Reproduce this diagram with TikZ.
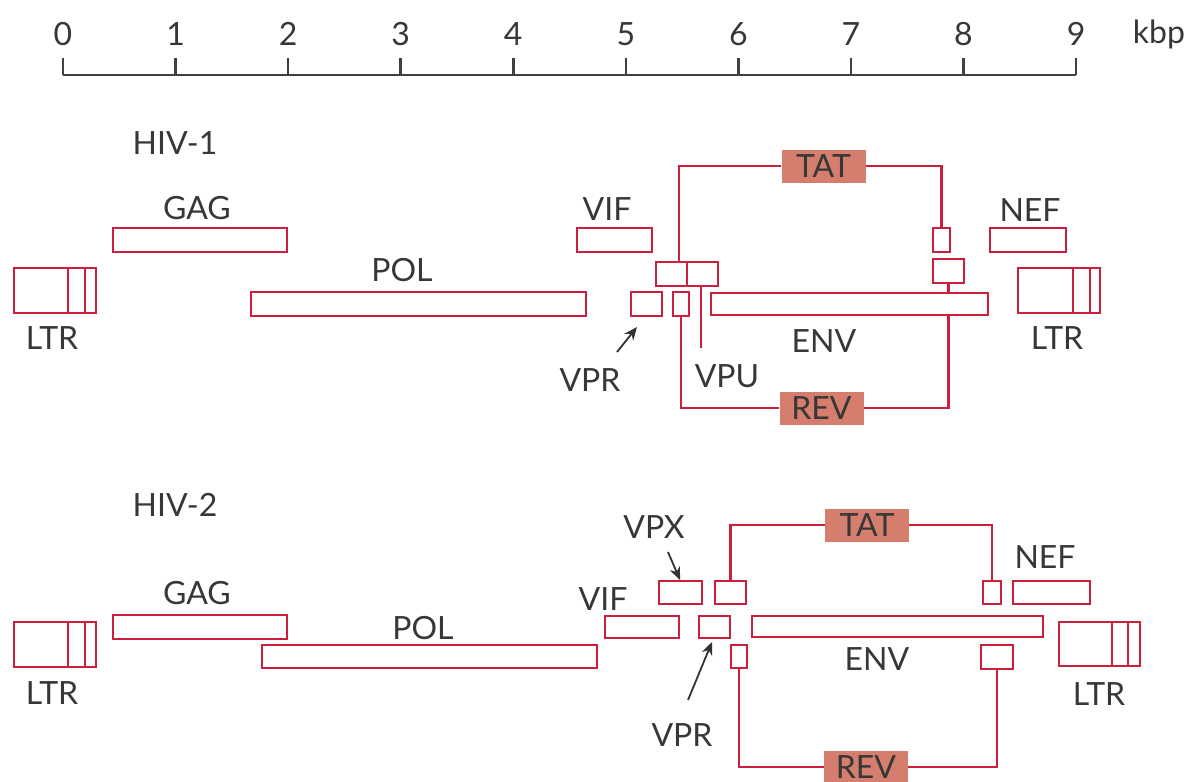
\documentclass[tikz,border=0pt]{standalone}
\usepackage{fontspec}
\setmainfont{Lato}
\usetikzlibrary{fit,arrows.meta}
\definecolor{gred}{RGB}{204,31,61}
\definecolor{gfill}{RGB}{214,126,110}
\definecolor{gtxt}{RGB}{55,55,55}
\newcommand\gbox[5]{\node[gene, fit={(#2,#3) (#4,#5)}] (#1) {};}
\begin{document}
\begin{tikzpicture}[x=0.5pt,y=-0.5pt,
  gene/.style={draw=gred,line width=1.4pt,inner sep=0pt,rectangle},
  lbl/.style={text=gtxt,font=\fontsize{16}{19}\selectfont,inner sep=0pt},
  hl/.style={fill=gfill,text=gtxt,font=\fontsize{16}{19}\selectfont,inner sep=0pt,minimum width=42pt,minimum height=16.5pt},
  conn/.style={draw=gred,line width=1.4pt},
  ptr/.style={draw=black!80,line width=0.9pt,-{Stealth[length=6.5pt,width=5.5pt]}},
  axisline/.style={draw=black!75,line width=1.3pt}]
\useasboundingbox (0,0) rectangle (1202,781);
\clip (0,0) rectangle (1202,781);

% scale
\draw[axisline] (63,75) -- (1076,75);
\foreach \i in {0,...,9} {
  \node[lbl] (t\i) at ({63+112.56*\i},34) {\i};
  \draw[axisline] ({63+112.56*\i},58) -- ({63+112.56*\i},75);
}
\node[lbl] (kbp) at (1159,34) {kbp};

% ================= HIV-1 =================
\node[lbl] (h1) at (175,143) {HIV-1};
\gbox{ltrA}{14}{268}{96}{313}
\draw[gene] (68,268) -- (68,313) (85,268) -- (85,313);
\node[lbl] (ltrAl) at (52,338) {LTR};
\gbox{gagA}{113}{228}{287}{252}
\node[lbl] (gagAl) at (197,208) {GAG};
\gbox{polA}{251}{292}{586}{316}
\node[lbl] (polAl) at (402,270) {POL};
\gbox{vifA}{577}{228}{652}{252}
\node[lbl] (vifAl) at (607,209) {VIF};
\gbox{vprA}{631}{292}{662}{316}
\node[lbl] (vprAl) at (590,380) {VPR};
\gbox{tatAa}{656}{262}{687}{286}
\gbox{vpuA}{687}{262}{718}{286}
\gbox{revAa}{673}{292}{689}{316}
\gbox{envA}{711}{293}{988}{315}
\node[lbl] (envAl) at (824,341) {ENV};
\node[lbl] (vpuAl) at (727,376) {VPU};
\gbox{tatAb}{933}{228}{950}{252}
\gbox{revAb}{933}{259}{964}{283}
\gbox{nefA}{990}{228}{1066}{252}
\node[lbl] (nefAl) at (1030,210) {NEF};
\gbox{ltrB}{1018}{268}{1100}{313}
\draw[gene] (1073,268) -- (1073,313) (1090,268) -- (1090,313);
\node[lbl] (ltrBl) at (1057,338) {LTR};
\node[hl] (tatA) at (823.5,166) {TAT};
\node[hl] (revA) at (821.5,408) {REV};
\coordinate (tatAcorner) at (679,166);
\draw[conn] (tatAa.north -| tatAcorner) -- (tatAcorner) -- (tatA.west);
\draw[conn] (tatA.east) -| (tatAb.north);
\draw[conn] (revAa.south) |- (revA.west);
\draw[conn] (revAb.south) -- (revAb.south |- envA.north);
\draw[conn] (revAb.south |- envA.south) |- (revA.east);
\path (vpuA.south) ++(-1.5,61) coordinate (vpuend);
\draw[conn] (vpuA.south -| vpuend) -- (vpuend);
\coordinate (vprAtail) at (617,352);
\coordinate (vprAtip) at (637,327);
\draw[ptr] (vprAtail) -- (vprAtip);

% ================= HIV-2 =================
\node[lbl] (h2) at (175,505) {HIV-2};
\gbox{ltrC}{14}{622}{96}{667}
\draw[gene] (68,622) -- (68,667) (85,622) -- (85,667);
\node[lbl] (ltrCl) at (52,693) {LTR};
\gbox{gagB}{113}{615}{287}{639}
\node[lbl] (gagBl) at (197,593) {GAG};
\gbox{polB}{262}{645}{597}{668}
\node[lbl] (polBl) at (423,628) {POL};
\gbox{vifB}{605}{616}{679}{638}
\node[lbl] (vifBl) at (603,599) {VIF};
\gbox{vpxB}{659}{581}{702}{604}
\node[lbl] (vpxBl) at (654,527) {VPX};
\gbox{tatBa}{715}{581}{746}{604}
\gbox{vprB}{699}{616}{730}{638}
\node[lbl] (vprBl) at (682,735) {VPR};
\gbox{revBa}{731}{645}{747}{668}
\gbox{envB}{752}{616}{1043}{637}
\node[lbl] (envBl) at (877,659) {ENV};
\gbox{tatBb}{983}{581}{1001}{604}
\gbox{revBb}{981}{645}{1013}{669}
\gbox{nefB}{1013}{581}{1090}{604}
\node[lbl] (nefBl) at (1045,557) {NEF};
\gbox{ltrD}{1059}{622}{1140}{666}
\draw[gene] (1112,622) -- (1112,666) (1128,622) -- (1128,666);
\node[lbl] (ltrDl) at (1099,694) {LTR};
\node[hl] (tatB) at (867,525) {TAT};
\node[hl] (revB) at (866,767) {REV};
\draw[conn] (tatBa.north) |- (tatB.west);
\draw[conn] (tatB.east) -| (tatBb.north);
\draw[conn] (revBa.south) |- (revB.west);
\draw[conn] (revB.east) -| (revBb.south);
\coordinate (vpxtail) at (668,552);
\coordinate (vpxtip) at (680,580);
\draw[ptr] (vpxtail) -- (vpxtip);
\coordinate (vprBtail) at (688,700);
\coordinate (vprBtip) at (712,642);
\draw[ptr] (vprBtail) -- (vprBtip);
\end{tikzpicture}
\end{document}
